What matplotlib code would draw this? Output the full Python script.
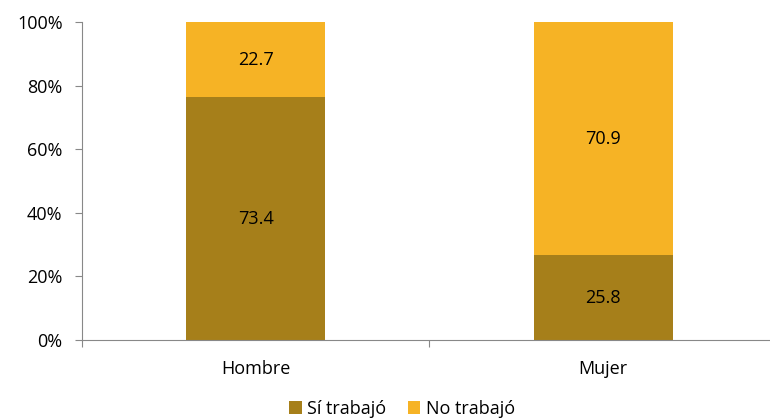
import matplotlib.pyplot as plt
import numpy as np
from matplotlib.patches import Patch

plt.rcParams['font.family'] = ['Open Sans', 'DejaVu Sans']

categories = ['Hombre', 'Mujer']
si_trabajo = [73.4, 25.8]
no_trabajo = [22.7, 70.9]
series_names = ['Sí trabajó', 'No trabajó']
colors = ['#A67F1A', '#F6B325']

si = np.array(si_trabajo)
no = np.array(no_trabajo)
total = si + no
si_pct = si / total * 100
no_pct = no / total * 100

fs = 13

fig = plt.figure(figsize=(7.7, 4.19), dpi=100)
ax = fig.add_axes([82 / 770, 1 - 340 / 419, 1 - 82 / 770, 318 / 419])

x = np.arange(len(categories))
ax.bar(x, si_pct, width=0.4, color=colors[0])
ax.bar(x, no_pct, width=0.4, bottom=si_pct, color=colors[1])

for i in range(len(categories)):
    ax.text(x[i], si_pct[i] / 2, f'{si[i]:.1f}', ha='center', va='center', fontsize=fs)
    ax.text(x[i], si_pct[i] + no_pct[i] / 2, f'{no[i]:.1f}', ha='center', va='center', fontsize=fs)

ax.set_xlim(-0.5, 1.48)
ax.set_ylim(0, 100)
ax.set_yticks(np.arange(0, 101, 20))
ax.set_yticklabels([f'{v}%' for v in range(0, 101, 20)], fontsize=fs)

ax.set_xticks([-0.5, 0.5])
ax.set_xticklabels([])
ax.tick_params(axis='x', length=5, color='#888888')
ax.tick_params(axis='y', length=5, color='#888888', pad=9)
for i, c in enumerate(categories):
    ax.text(x[i], -9, c, ha='center', va='center', fontsize=fs)

for s in ['top', 'right']:
    ax.spines[s].set_visible(False)
for s in ['left', 'bottom']:
    ax.spines[s].set_color('#888888')

handles = [Patch(facecolor=colors[0]), Patch(facecolor=colors[1])]
fig.legend(handles, series_names, loc='center', bbox_to_anchor=(402 / 770, 1 - 409 / 419),
           ncol=2, frameon=False, fontsize=fs, handlelength=0.7, handleheight=0.7,
           handletextpad=0.3, columnspacing=1.2, borderpad=0)

fig.savefig('out.png', dpi=100)
